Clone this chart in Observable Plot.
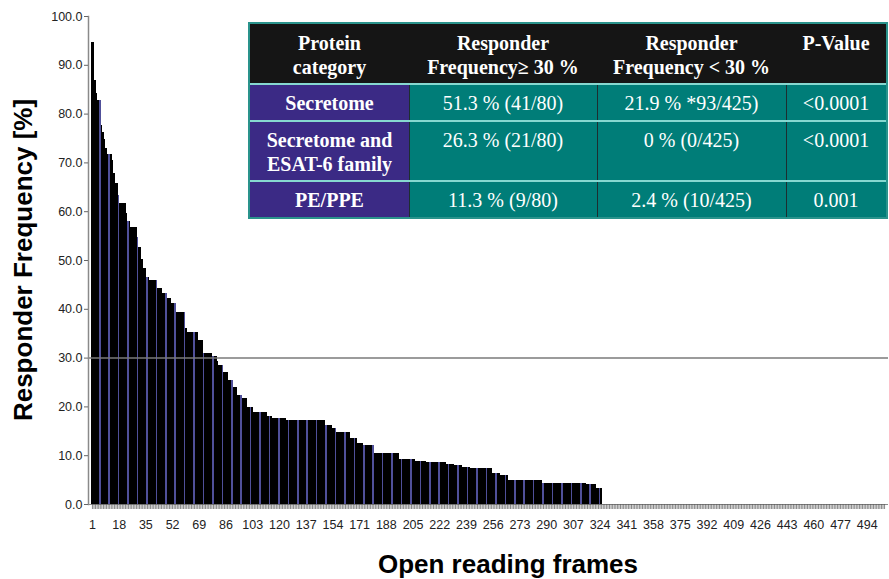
<!DOCTYPE html>
<html>
<head>
<meta charset="utf-8">
<script src="https://cdn.jsdelivr.net/npm/d3@7"></script>
<script src="https://cdn.jsdelivr.net/npm/@observablehq/plot@0.6"></script>
<style>
  html, body { margin: 0; padding: 0; background: #fff; }
  #wrap { position: relative; width: 889px; height: 579px; overflow: hidden; font-family: "Liberation Sans", Arial, sans-serif; }
  #wrap svg { position: absolute; left: 0; top: 0; }
  .cell { position: absolute; box-sizing: border-box; text-align: center; color: #fff;
          font-family: "Liberation Serif", "Times New Roman", serif; font-size: 20px; line-height: 23.5px;
          padding-top: 8px; white-space: pre-line; }
  .sep { position: absolute; }
</style>
</head>
<body>
<div id="wrap"></div>
<script>
// ---- Data ----
const responderFreq = [
  94.7, 94.7, 86.8, 84.2, 82.8, 82.8, 77.7, 76.2, 74.8, 72.9,
  71.8, 71.8, 71.8, 70.4, 67.8, 65.8, 65.8, 63.3, 61.6, 61.6,
  61.6, 61.6, 59.6, 57.9, 57.9, 56.8, 56.8, 56.8, 56.8, 54.8,
  52.7, 52.7, 50.3, 48.3, 48.3, 46.6, 46.6, 45.9, 45.9, 45.9,
  45.9, 45.9, 44.2, 44.2, 44.2, 43.2, 43.2, 43.2, 42.2, 42.2,
  42.2, 41.2, 41.2, 41.2, 39.3, 39.3, 39.3, 39.3, 39.3, 39.3,
  36.0, 35.2, 35.2, 35.2, 35.2, 35.2, 35.2, 35.2, 33.7, 33.7,
  33.7, 31.0, 31.0, 31.0, 31.0, 31.0, 31.0, 30.3, 30.3, 30.3,
  29.3, 28.4, 28.4, 28.4, 27.0, 27.0, 27.0, 25.4, 25.4, 25.4,
  24.0, 24.0, 24.0, 22.3, 22.3, 22.3, 21.7, 21.7, 21.7, 19.8,
  19.8, 19.8, 19.8, 18.8, 18.8, 18.8, 18.8, 18.8, 18.8, 18.8,
  18.8, 18.8, 18.1, 18.1, 18.1, 17.7, 17.7, 17.7, 17.7, 17.7,
  17.7, 17.7, 17.7, 17.7, 17.2, 17.2, 17.2, 17.2, 17.2, 17.2,
  17.2, 17.2, 17.2, 17.2, 17.2, 17.2, 17.2, 17.2, 17.2, 17.2,
  17.2, 17.2, 17.2, 17.2, 17.2, 17.2, 17.2, 17.2, 17.2, 16.1,
  16.1, 16.1, 16.1, 15.5, 15.5, 15.5, 14.7, 14.7, 14.7, 14.7,
  14.7, 14.7, 14.7, 14.7, 14.7, 13.6, 13.6, 13.6, 13.6, 12.6,
  12.6, 12.6, 12.6, 12.0, 12.0, 12.0, 12.0, 12.0, 12.0, 12.0,
  10.4, 10.4, 10.4, 10.4, 10.4, 10.4, 10.4, 10.4, 10.4, 10.4,
  10.4, 10.4, 10.4, 10.4, 10.4, 10.4, 9.3, 9.3, 9.3, 9.3,
  9.3, 9.3, 9.3, 9.3, 9.3, 9.3, 8.9, 8.9, 8.9, 8.9,
  8.9, 8.9, 8.9, 8.6, 8.6, 8.6, 8.6, 8.6, 8.6, 8.6,
  8.6, 8.6, 8.6, 8.6, 8.6, 8.6, 8.2, 8.2, 8.2, 8.2,
  8.2, 7.9, 7.9, 7.9, 7.9, 7.9, 7.5, 7.5, 7.5, 7.5,
  7.5, 7.3, 7.3, 7.3, 7.3, 7.3, 7.3, 7.3, 7.3, 7.3,
  7.3, 7.3, 7.3, 7.3, 7.3, 6.3, 6.3, 6.3, 6.3, 6.3,
  6.0, 6.0, 6.0, 6.0, 6.0, 5.0, 5.0, 5.0, 5.0, 5.0,
  5.0, 5.0, 5.0, 5.0, 5.0, 5.0, 5.0, 5.0, 5.0, 5.0,
  5.0, 5.0, 5.0, 5.0, 5.0, 5.0, 5.0, 4.4, 4.4, 4.4,
  4.4, 4.4, 4.4, 4.4, 4.4, 4.4, 4.4, 4.4, 4.4, 4.4,
  4.4, 4.4, 4.4, 4.4, 4.4, 4.4, 4.4, 4.4, 4.4, 4.4,
  4.4, 4.4, 4.4, 4.4, 4.4, 4.0, 4.0, 4.0, 4.0, 4.0,
  4.0, 3.2, 3.2, 3.2, 3.2, 0, 0, 0, 0, 0,
  0, 0, 0, 0, 0, 0, 0, 0, 0, 0, 0, 0, 0, 0, 0, 0, 0, 0, 0, 0,
  0, 0, 0, 0, 0, 0, 0, 0, 0, 0, 0, 0, 0, 0, 0, 0, 0, 0, 0, 0,
  0, 0, 0, 0, 0, 0, 0, 0, 0, 0, 0, 0, 0, 0, 0, 0, 0, 0, 0, 0,
  0, 0, 0, 0, 0, 0, 0, 0, 0, 0, 0, 0, 0, 0, 0, 0, 0, 0, 0, 0,
  0, 0, 0, 0, 0, 0, 0, 0, 0, 0, 0, 0, 0, 0, 0, 0, 0, 0, 0, 0,
  0, 0, 0, 0, 0, 0, 0, 0, 0, 0, 0, 0, 0, 0, 0, 0, 0, 0, 0, 0,
  0, 0, 0, 0, 0, 0, 0, 0, 0, 0, 0, 0, 0, 0, 0, 0, 0, 0, 0, 0,
  0, 0, 0, 0, 0, 0, 0, 0, 0, 0, 0, 0, 0, 0, 0, 0, 0, 0, 0, 0,
  0, 0, 0, 0, 0, 0, 0, 0, 0, 0, 0, 0, 0, 0, 0
];
const orfIds = responderFreq.map((_, i) => i + 1);
const xTickLabels = [1, 18, 35, 52, 69, 86, 103, 120, 137, 154, 171, 188, 205, 222, 239, 256,
                     273, 290, 307, 324, 341, 358, 375, 392, 409, 426, 443, 460, 477, 494];
const yTickValues = [0, 10, 20, 30, 40, 50, 60, 70, 80, 90, 100];
const threshold = [30];
const yLabel = "Responder Frequency [%]";
const xLabel = "Open reading frames";

// table
const tableHeaders = ["Protein\ncategory", "Responder\nFrequency\u2265 30 %", "Responder\nFrequency < 30 %", "P-Value"];
const proteinCategories = ["Secretome", "Secretome and\nESAT-6 family", "PE/PPE"];
const freqHigh = ["51.3 % (41/80)", "26.3 % (21/80)", "11.3 % (9/80)"];
const freqLow = ["21.9 % *93/425)", "0 % (0/425)", "2.4 % (10/425)"];
const pValues = ["<0.0001", "<0.0001", "0.001"];

// ---- Chart ----
const data = orfIds.map((id, i) => ({orf: id, value: responderFreq[i]}));

const chart = Plot.plot({
  width: 889,
  height: 579,
  marginLeft: 88,
  marginRight: 1,
  marginTop: 16,
  marginBottom: 75,
  style: {fontFamily: "'Liberation Sans', Arial, sans-serif", color: "#222", background: "transparent"},
  x: {type: "band", domain: orfIds, paddingInner: 0, paddingOuter: 2, axis: null},
  y: {domain: [0, 100], axis: null},
  marks: [
    Plot.barY(data, {x: "orf", y: "value", fill: "#000", shapeRendering: "crispEdges"}),
    Plot.barY(data, {x: "orf", y: "value", fill: "#50509a", filter: d => d.orf % 6 === 0, shapeRendering: "crispEdges"}),
    Plot.ruleY(threshold, {stroke: "#7a7a7a", strokeWidth: 1.5}),
    Plot.ruleY([0], {stroke: "#8a8a8a", strokeWidth: 1}),
    Plot.frame({anchor: "left", stroke: "#8a8a8a", strokeWidth: 1.5}),
    Plot.axisY({ticks: yTickValues, tickFormat: d3.format(".1f"), tickSize: 4, tickPadding: 2, fontSize: 12.5, stroke: "#666", label: null}),
    Plot.axisX({ticks: orfIds, tickFormat: d => xTickLabels.includes(d) ? String(d) : "", tickSize: 5, tickPadding: 11, fontSize: 12.5, stroke: "#555", strokeWidth: 0.7, label: null})
  ]
});

const wrap = document.getElementById("wrap");
wrap.appendChild(chart);

const svg = d3.select(chart);
svg.append("text")
  .attr("transform", "translate(31.5,260) rotate(-90)")
  .attr("text-anchor", "middle")
  .attr("font-family", "'Liberation Sans', Arial, sans-serif")
  .attr("font-weight", "bold")
  .attr("font-size", 26)
  .attr("fill", "#000")
  .text(yLabel);
svg.append("text")
  .attr("x", 508)
  .attr("y", 573)
  .attr("text-anchor", "middle")
  .attr("font-family", "'Liberation Sans', Arial, sans-serif")
  .attr("font-weight", "bold")
  .attr("font-size", 26)
  .attr("fill", "#000")
  .text(xLabel);

// ---- Table overlay ----
const colEdges = [250, 409, 597, 786, 886];
const rowEdges = [24, 84, 121, 181, 217];
const rows = [tableHeaders].concat(proteinCategories.map((c, i) => [c, freqHigh[i], freqLow[i], pValues[i]]));
const tbl = d3.select(wrap);
rows.forEach((row, r) => {
  row.forEach((txt, c) => {
    const bg = r === 0 ? "#151515" : (c === 0 ? "#3b2a85" : "#007d78");
    const bold = r === 0 || c === 0;
    tbl.append("div").attr("class", "cell")
      .style("left", colEdges[c] + "px")
      .style("top", rowEdges[r] + "px")
      .style("width", (colEdges[c + 1] - colEdges[c]) + "px")
      .style("height", (rowEdges[r + 1] - rowEdges[r]) + "px")
      .style("background", bg)
      .style("font-weight", bold ? "bold" : "normal")
      .text(txt);
  });
});
// vertical separators in body rows
for (let c = 1; c < colEdges.length - 1; c++) {
  tbl.append("div").attr("class", "sep")
    .style("left", (colEdges[c] - 0.5) + "px").style("top", rowEdges[1] + "px")
    .style("width", "1.2px").style("height", (rowEdges[4] - rowEdges[1]) + "px")
    .style("background", "#1d2e30");
}
// horizontal separators
for (let r = 1; r < rowEdges.length - 1; r++) {
  tbl.append("div").attr("class", "sep")
    .style("left", colEdges[0] + "px").style("top", (rowEdges[r] - 1.2) + "px")
    .style("width", (colEdges[4] - colEdges[0]) + "px").style("height", "2.5px")
    .style("background", "#86d8d0");
}
// outer border
tbl.append("div").attr("class", "sep")
  .style("left", (colEdges[0] - 2) + "px").style("top", (rowEdges[0] - 2) + "px")
  .style("width", (colEdges[4] - colEdges[0]) + "px").style("height", (rowEdges[4] - rowEdges[0]) + "px")
  .style("border", "2px solid #2a938c").style("box-sizing", "content-box");
</script>
</body>
</html>
